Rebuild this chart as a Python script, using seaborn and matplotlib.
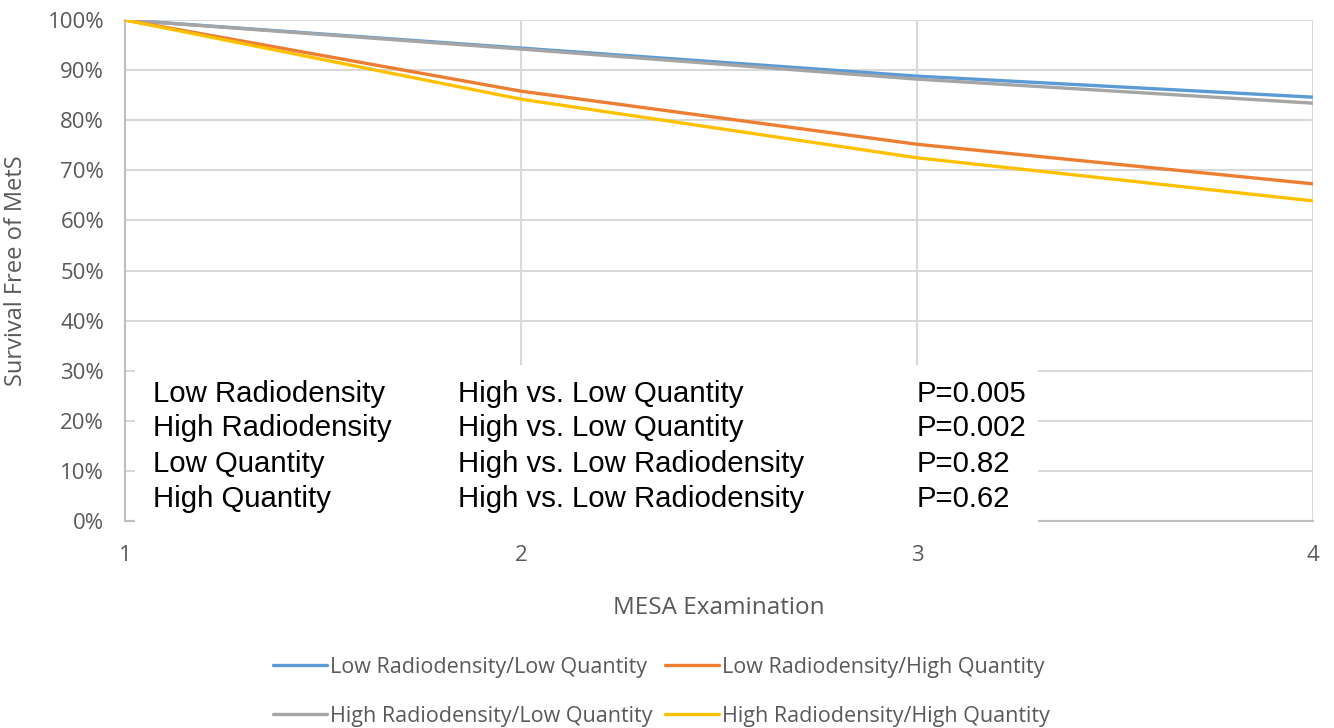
import pandas as pd
import seaborn as sns
import matplotlib.pyplot as plt
from matplotlib.patches import Rectangle
from matplotlib.ticker import PercentFormatter

# Data (survival free of MetS, %)
exams = [1, 2, 3, 4]
low_rd_low_q = [100, 94.4, 88.8, 84.6]
low_rd_high_q = [100, 85.8, 75.2, 67.3]
high_rd_low_q = [100, 94.2, 88.2, 83.4]
high_rd_high_q = [100, 84.2, 72.5, 63.9]

series_names = [
    "Low Radiodensity/Low Quantity",
    "High Radiodensity/Low Quantity",
    "Low Radiodensity/High Quantity",
    "High Radiodensity/High Quantity",
]
series_values = [low_rd_low_q, high_rd_low_q, low_rd_high_q, high_rd_high_q]
colors = ["#5B9BD5", "#A5A5A5", "#ED7D31", "#FFC000"]

stat_groups = ["Low Radiodensity", "High Radiodensity", "Low Quantity", "High Quantity"]
stat_comparisons = ["High vs. Low Quantity", "High vs. Low Quantity",
                    "High vs. Low Radiodensity", "High vs. Low Radiodensity"]
stat_pvalues = ["P=0.005", "P=0.002", "P=0.82", "P=0.62"]

rows = []
for name, vals in zip(series_names, series_values):
    for x, v in zip(exams, vals):
        rows.append({"exam": x, "survival": v, "group": name})
df = pd.DataFrame(rows)

sns.set_theme(style="white")
plt.rcParams["font.family"] = ["Open Sans", "DejaVu Sans"]

fig = plt.figure(figsize=(13.34, 7.28), dpi=100)
ax = fig.add_axes([0.0937, 0.2843, 0.8906, 0.6882])

sns.lineplot(data=df, x="exam", y="survival", hue="group", hue_order=series_names,
             palette=dict(zip(series_names, colors)), linewidth=2.4, ax=ax,
             legend=False, zorder=3)

ax.set_xlim(1, 4)
ax.set_ylim(0, 100)
ax.set_xticks(exams)
ax.set_yticks(range(0, 101, 10))
ax.yaxis.set_major_formatter(PercentFormatter(decimals=0))
ax.grid(True, color="#D9D9D9", linewidth=1.5, zorder=0)
ax.set_axisbelow(True)
for side in ["top", "right"]:
    ax.spines[side].set_visible(False)
for side in ["left", "bottom"]:
    ax.spines[side].set_color("#BFBFBF")
    ax.spines[side].set_linewidth(1.5)
ax.tick_params(axis="y", length=0, pad=15, labelsize=16, labelcolor="#595959")
ax.tick_params(axis="x", length=0, pad=17, labelsize=16, labelcolor="#595959")

ax.set_xlabel("MESA Examination", fontsize=17.5, color="#595959", labelpad=22)
ax.set_ylabel("Survival Free of MetS", fontsize=17, color="#595959", labelpad=14)

# White text box with the p-values
ax.add_patch(Rectangle((1.025, -0.8), 2.281, 31.9, facecolor="white",
                       edgecolor="none", zorder=4, clip_on=False))
row_y = [25.3, 18.6, 11.4, 4.4]
for y, g, c, p in zip(row_y, stat_groups, stat_comparisons, stat_pvalues):
    for x, s in zip([1.071, 1.841, 3.0], [g, c, p]):
        ax.text(x, y, s, fontsize=21.2, family="Liberation Sans", color="black",
                va="center", ha="left", zorder=5)

handles = [plt.Line2D([], [], color=c, linewidth=2.4) for c in colors]
fig.legend(handles, series_names, loc="center", bbox_to_anchor=(0.496, 0.050),
           ncol=2, frameon=False, fontsize=15.5, labelcolor="#595959",
           handlelength=2.5, handletextpad=0.15, columnspacing=0.6,
           labelspacing=1.3)

fig.savefig("out.png", dpi=100)
